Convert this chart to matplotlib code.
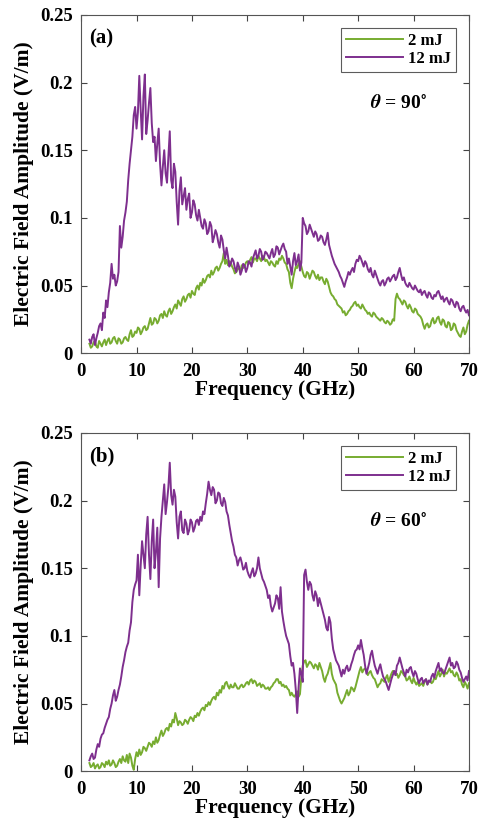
import numpy as np
import matplotlib
matplotlib.use("Agg")
import matplotlib.pyplot as plt

plt.rcParams['font.family'] = ['Liberation Serif', 'DejaVu Serif']
plt.rcParams['font.weight'] = 'bold'
plt.rcParams['mathtext.fontset'] = 'stix'

# frequency grid (GHz), 0.25 GHz steps
freq = np.arange(1.5, 70.01, 0.25)

# (a) theta = 90 deg
a_12mJ = [0.010, 0.007, 0.012, 0.014, 0.006, 0.011, 0.015, 0.020, 0.022, 0.017,
          0.030, 0.026, 0.039, 0.034, 0.045, 0.052, 0.066, 0.055, 0.058, 0.050,
          0.053, 0.060, 0.094, 0.078, 0.086, 0.098, 0.104, 0.112, 0.128, 0.140,
          0.150, 0.160, 0.176, 0.182, 0.166, 0.178, 0.205, 0.180, 0.158, 0.190,
          0.206, 0.162, 0.172, 0.185, 0.196, 0.170, 0.156, 0.160, 0.142, 0.155,
          0.166, 0.140, 0.124, 0.138, 0.150, 0.133, 0.126, 0.145, 0.164, 0.128,
          0.122, 0.140, 0.134, 0.112, 0.095, 0.120, 0.130, 0.110, 0.116, 0.122,
          0.106, 0.114, 0.118, 0.100, 0.104, 0.113, 0.110, 0.102, 0.098, 0.106,
          0.100, 0.094, 0.092, 0.099, 0.096, 0.088, 0.090, 0.097, 0.094, 0.082,
          0.086, 0.091, 0.088, 0.082, 0.078, 0.087, 0.084, 0.076, 0.070, 0.078,
          0.072, 0.064, 0.066, 0.070, 0.068, 0.063, 0.060, 0.067, 0.064, 0.058,
          0.061, 0.066, 0.065, 0.060, 0.063, 0.068, 0.067, 0.064, 0.070, 0.073,
          0.076, 0.070, 0.072, 0.077, 0.075, 0.069, 0.071, 0.075, 0.074, 0.072,
          0.070, 0.074, 0.077, 0.071, 0.073, 0.079, 0.078, 0.073, 0.076, 0.079,
          0.081, 0.077, 0.075, 0.066, 0.070, 0.064, 0.058, 0.068, 0.074, 0.065,
          0.068, 0.073, 0.061, 0.067, 0.100, 0.096, 0.094, 0.088, 0.090, 0.095,
          0.092, 0.089, 0.086, 0.090, 0.088, 0.083, 0.084, 0.087, 0.086, 0.082,
          0.080, 0.084, 0.089, 0.080, 0.076, 0.072, 0.069, 0.066, 0.064, 0.062,
          0.060, 0.057, 0.055, 0.052, 0.049, 0.053, 0.056, 0.060, 0.058, 0.061,
          0.063, 0.060, 0.066, 0.069, 0.068, 0.072, 0.070, 0.067, 0.064, 0.068,
          0.066, 0.062, 0.060, 0.063, 0.058, 0.056, 0.061, 0.058, 0.055, 0.052,
          0.050, 0.053, 0.054, 0.050, 0.052, 0.055, 0.056, 0.053, 0.055, 0.057,
          0.058, 0.054, 0.056, 0.060, 0.063, 0.058, 0.054, 0.056, 0.052, 0.050,
          0.049, 0.052, 0.050, 0.048, 0.047, 0.050, 0.048, 0.046, 0.045, 0.047,
          0.043, 0.045, 0.046, 0.043, 0.041, 0.045, 0.044, 0.041, 0.040, 0.043,
          0.042, 0.045, 0.046, 0.043, 0.040, 0.042, 0.038, 0.040, 0.041, 0.038,
          0.036, 0.040, 0.039, 0.036, 0.034, 0.038, 0.037, 0.033, 0.031, 0.034,
          0.035, 0.032, 0.030, 0.032, 0.028]
a_2mJ = [0.007, 0.004, 0.005, 0.008, 0.009, 0.005, 0.004, 0.009, 0.007, 0.005,
         0.008, 0.010, 0.006, 0.009, 0.011, 0.007, 0.008, 0.011, 0.012, 0.009,
         0.007, 0.011, 0.010, 0.007, 0.008, 0.011, 0.012, 0.010, 0.009, 0.014,
         0.017, 0.012, 0.013, 0.016, 0.015, 0.019, 0.018, 0.014, 0.016, 0.019,
         0.020, 0.017, 0.018, 0.022, 0.026, 0.021, 0.022, 0.026, 0.025, 0.022,
         0.024, 0.028, 0.029, 0.026, 0.031, 0.028, 0.027, 0.031, 0.033, 0.029,
         0.031, 0.034, 0.036, 0.033, 0.039, 0.037, 0.035, 0.040, 0.042, 0.038,
         0.040, 0.043, 0.044, 0.041, 0.046, 0.044, 0.043, 0.048, 0.050, 0.047,
         0.052, 0.050, 0.055, 0.052, 0.054, 0.057, 0.058, 0.056, 0.061, 0.058,
         0.060, 0.063, 0.064, 0.061, 0.063, 0.066, 0.068, 0.074, 0.066, 0.069,
         0.065, 0.068, 0.067, 0.064, 0.062, 0.059, 0.060, 0.062, 0.063, 0.061,
         0.065, 0.063, 0.064, 0.067, 0.068, 0.066, 0.069, 0.071, 0.067, 0.070,
         0.070, 0.068, 0.072, 0.070, 0.068, 0.072, 0.071, 0.068, 0.069, 0.067,
         0.065, 0.068, 0.067, 0.065, 0.064, 0.068, 0.066, 0.070, 0.069, 0.072,
         0.070, 0.067, 0.066, 0.062, 0.060, 0.052, 0.048, 0.055, 0.060, 0.064,
         0.063, 0.066, 0.068, 0.064, 0.060, 0.057, 0.056, 0.060, 0.059, 0.055,
         0.058, 0.061, 0.060, 0.057, 0.055, 0.058, 0.054, 0.056, 0.056, 0.053,
         0.051, 0.055, 0.053, 0.049, 0.045, 0.043, 0.042, 0.040, 0.039, 0.036,
         0.035, 0.034, 0.033, 0.030, 0.031, 0.028, 0.029, 0.031, 0.032, 0.034,
         0.035, 0.037, 0.038, 0.035, 0.036, 0.034, 0.033, 0.036, 0.034, 0.032,
         0.031, 0.029, 0.030, 0.028, 0.027, 0.030, 0.029, 0.027, 0.026, 0.025,
         0.024, 0.026, 0.025, 0.023, 0.022, 0.024, 0.023, 0.021, 0.022, 0.025,
         0.024, 0.040, 0.044, 0.041, 0.040, 0.038, 0.036, 0.039, 0.038, 0.035,
         0.033, 0.036, 0.034, 0.031, 0.030, 0.033, 0.032, 0.029, 0.028, 0.027,
         0.025, 0.021, 0.018, 0.021, 0.022, 0.019, 0.020, 0.024, 0.026, 0.022,
         0.023, 0.026, 0.027, 0.023, 0.021, 0.025, 0.024, 0.020, 0.019, 0.023,
         0.022, 0.017, 0.018, 0.022, 0.021, 0.017, 0.015, 0.013, 0.012, 0.016,
         0.019, 0.014, 0.016, 0.021, 0.024]

# (b) theta = 60 deg
b_12mJ = [0.008, 0.011, 0.013, 0.009, 0.010, 0.016, 0.020, 0.018, 0.024, 0.027,
          0.028, 0.032, 0.035, 0.038, 0.040, 0.046, 0.050, 0.056, 0.060, 0.052,
          0.055, 0.060, 0.064, 0.070, 0.077, 0.082, 0.088, 0.092, 0.095, 0.104,
          0.110, 0.125, 0.134, 0.138, 0.141, 0.160, 0.130, 0.152, 0.170, 0.160,
          0.150, 0.175, 0.188, 0.160, 0.142, 0.170, 0.186, 0.150, 0.162, 0.180,
          0.136, 0.172, 0.188, 0.200, 0.212, 0.190, 0.199, 0.210, 0.228, 0.204,
          0.197, 0.208, 0.203, 0.184, 0.172, 0.188, 0.192, 0.178, 0.176, 0.186,
          0.183, 0.175, 0.178, 0.186, 0.184, 0.177, 0.180, 0.185, 0.186, 0.182,
          0.188, 0.185, 0.192, 0.190, 0.198, 0.205, 0.214, 0.208, 0.204, 0.210,
          0.208, 0.198, 0.200, 0.206, 0.205, 0.198, 0.196, 0.202, 0.199, 0.192,
          0.189, 0.182, 0.176, 0.170, 0.166, 0.160, 0.158, 0.152, 0.156, 0.158,
          0.154, 0.149, 0.150, 0.154, 0.148, 0.145, 0.143, 0.147, 0.150, 0.144,
          0.146, 0.150, 0.158, 0.150, 0.146, 0.142, 0.140, 0.137, 0.134, 0.128,
          0.130, 0.122, 0.118, 0.121, 0.124, 0.130, 0.128, 0.120, 0.136, 0.118,
          0.111, 0.105, 0.100, 0.097, 0.094, 0.085, 0.078, 0.080, 0.072, 0.060,
          0.043, 0.062, 0.076, 0.072, 0.066, 0.145, 0.149, 0.140, 0.134, 0.140,
          0.138, 0.130, 0.126, 0.133, 0.130, 0.122, 0.128, 0.124, 0.120, 0.116,
          0.112, 0.106, 0.104, 0.114, 0.110, 0.098, 0.090, 0.086, 0.082, 0.080,
          0.078, 0.074, 0.070, 0.075, 0.072, 0.076, 0.078, 0.074, 0.075, 0.079,
          0.082, 0.086, 0.089, 0.090, 0.093, 0.090, 0.097, 0.091, 0.086, 0.078,
          0.072, 0.076, 0.080, 0.086, 0.089, 0.083, 0.078, 0.075, 0.072, 0.076,
          0.079, 0.074, 0.070, 0.068, 0.066, 0.063, 0.060, 0.064, 0.068, 0.071,
          0.074, 0.071, 0.078, 0.080, 0.084, 0.080, 0.076, 0.073, 0.070, 0.075,
          0.073, 0.076, 0.077, 0.073, 0.070, 0.074, 0.072, 0.068, 0.065, 0.068,
          0.069, 0.065, 0.067, 0.068, 0.064, 0.067, 0.066, 0.070, 0.072, 0.069,
          0.074, 0.077, 0.080, 0.074, 0.076, 0.073, 0.072, 0.075, 0.078, 0.081,
          0.084, 0.078, 0.080, 0.076, 0.077, 0.081, 0.079, 0.075, 0.073, 0.069,
          0.066, 0.068, 0.070, 0.067, 0.074]
b_2mJ = [0.006, 0.003, 0.004, 0.006, 0.002, 0.004, 0.005, 0.002, 0.003, 0.006,
         0.005, 0.003, 0.007, 0.005, 0.008, 0.004, 0.005, 0.008, 0.006, 0.003,
         0.004, 0.007, 0.009, 0.006, 0.011, 0.008, 0.007, 0.012, 0.006, 0.013,
         0.010, 0.004, 0.001, 0.009, 0.014, 0.011, 0.016, 0.012, 0.014, 0.018,
         0.017, 0.015, 0.018, 0.021, 0.020, 0.018, 0.022, 0.020, 0.025, 0.021,
         0.023, 0.027, 0.030, 0.026, 0.028, 0.031, 0.032, 0.030, 0.035, 0.033,
         0.038, 0.036, 0.043, 0.039, 0.034, 0.037, 0.036, 0.034, 0.035, 0.038,
         0.037, 0.035, 0.038, 0.040, 0.039, 0.037, 0.041, 0.040, 0.043, 0.041,
         0.044, 0.046, 0.047, 0.045, 0.049, 0.048, 0.051, 0.049, 0.052, 0.054,
         0.055, 0.053, 0.058, 0.056, 0.060, 0.058, 0.063, 0.061, 0.065, 0.066,
         0.063, 0.061, 0.064, 0.062, 0.062, 0.065, 0.063, 0.061, 0.061, 0.063,
         0.064, 0.062, 0.063, 0.065, 0.066, 0.064, 0.067, 0.068, 0.065, 0.067,
         0.066, 0.063, 0.064, 0.065, 0.062, 0.064, 0.063, 0.061, 0.061, 0.062,
         0.060, 0.062, 0.063, 0.065, 0.066, 0.068, 0.068, 0.065, 0.066, 0.063,
         0.064, 0.062, 0.063, 0.061, 0.060, 0.056, 0.058, 0.056, 0.055, 0.057,
         0.059, 0.055, 0.057, 0.070, 0.078, 0.081, 0.082, 0.077, 0.079, 0.081,
         0.080, 0.078, 0.076, 0.079, 0.078, 0.075, 0.080, 0.077, 0.074, 0.069,
         0.066, 0.070, 0.072, 0.076, 0.080, 0.072, 0.068, 0.066, 0.064, 0.058,
         0.055, 0.052, 0.050, 0.052, 0.054, 0.057, 0.060, 0.056, 0.058, 0.062,
         0.061, 0.059, 0.062, 0.066, 0.070, 0.074, 0.077, 0.073, 0.075, 0.076,
         0.074, 0.071, 0.073, 0.074, 0.071, 0.069, 0.068, 0.065, 0.062, 0.064,
         0.065, 0.068, 0.067, 0.066, 0.069, 0.071, 0.066, 0.069, 0.072, 0.074,
         0.074, 0.071, 0.072, 0.069, 0.071, 0.074, 0.073, 0.071, 0.070, 0.067,
         0.068, 0.070, 0.067, 0.065, 0.069, 0.066, 0.064, 0.066, 0.063, 0.064,
         0.065, 0.063, 0.066, 0.068, 0.064, 0.066, 0.067, 0.065, 0.066, 0.069,
         0.068, 0.071, 0.074, 0.070, 0.072, 0.075, 0.070, 0.073, 0.072, 0.074,
         0.076, 0.073, 0.074, 0.071, 0.070, 0.073, 0.071, 0.067, 0.068, 0.064,
         0.062, 0.066, 0.064, 0.061, 0.065]

panels = [('(a)', r'$\theta$ = 90$^{\circ}$', a_2mJ, a_12mJ),
          ('(b)', r'$\theta$ = 60$^{\circ}$', b_2mJ, b_12mJ)]

green = '#77AC30'
purple = '#7E2F8E'

fig = plt.figure(figsize=(4.8, 8.31), dpi=100)
boxes = [[0.169, 0.575, 0.808, 0.407], [0.169, 0.072, 0.808, 0.407]]

for box, (tag, angle, low, high) in zip(boxes, panels):
    ax = fig.add_axes(box)
    ax.plot(freq, low, color=green, lw=1.4, label='2 mJ')
    ax.plot(freq, high, color=purple, lw=1.4, label='12 mJ')
    ax.set_xlim(0, 70)
    ax.set_ylim(0, 0.25)
    ax.set_xticks(np.arange(0, 71, 10))
    ax.set_yticks([0, 0.05, 0.1, 0.15, 0.2, 0.25])
    ax.set_yticklabels(['0', '0.05', '0.1', '0.15', '0.2', '0.25'])
    ax.tick_params(direction='in', top=True, right=True, labelsize=13.5,
                   length=4, width=0.8, color='#444444')
    ax.tick_params(axis='x', pad=7)
    ax.tick_params(axis='y', pad=6)
    for s in ax.spines.values():
        s.set_color('#555555')
        s.set_linewidth(0.8)
    ax.set_xlabel('Frequency (GHz)', fontsize=15.5, fontweight='bold', labelpad=0)
    ax.set_ylabel('Electric Field Amplitude (V/m)', fontsize=15.5,
                  fontweight='bold', labelpad=4)
    ax.text(0.02, 0.96, tag, transform=ax.transAxes, fontsize=15,
            fontweight='bold', va='top', ha='left')
    ax.text(0.82, 0.74, angle, transform=ax.transAxes, fontsize=14,
            fontweight='bold', ha='center', va='center')
    leg = ax.legend(loc='upper right', fontsize=12, frameon=True, fancybox=False,
                    edgecolor='#333333', handlelength=3.4, borderaxespad=0.8,
                    borderpad=0.3, labelspacing=0.1, handletextpad=0.3)
    leg.get_frame().set_linewidth(0.8)
    for t in leg.get_texts():
        t.set_fontweight('bold')

fig.savefig('out.png', dpi=100)
